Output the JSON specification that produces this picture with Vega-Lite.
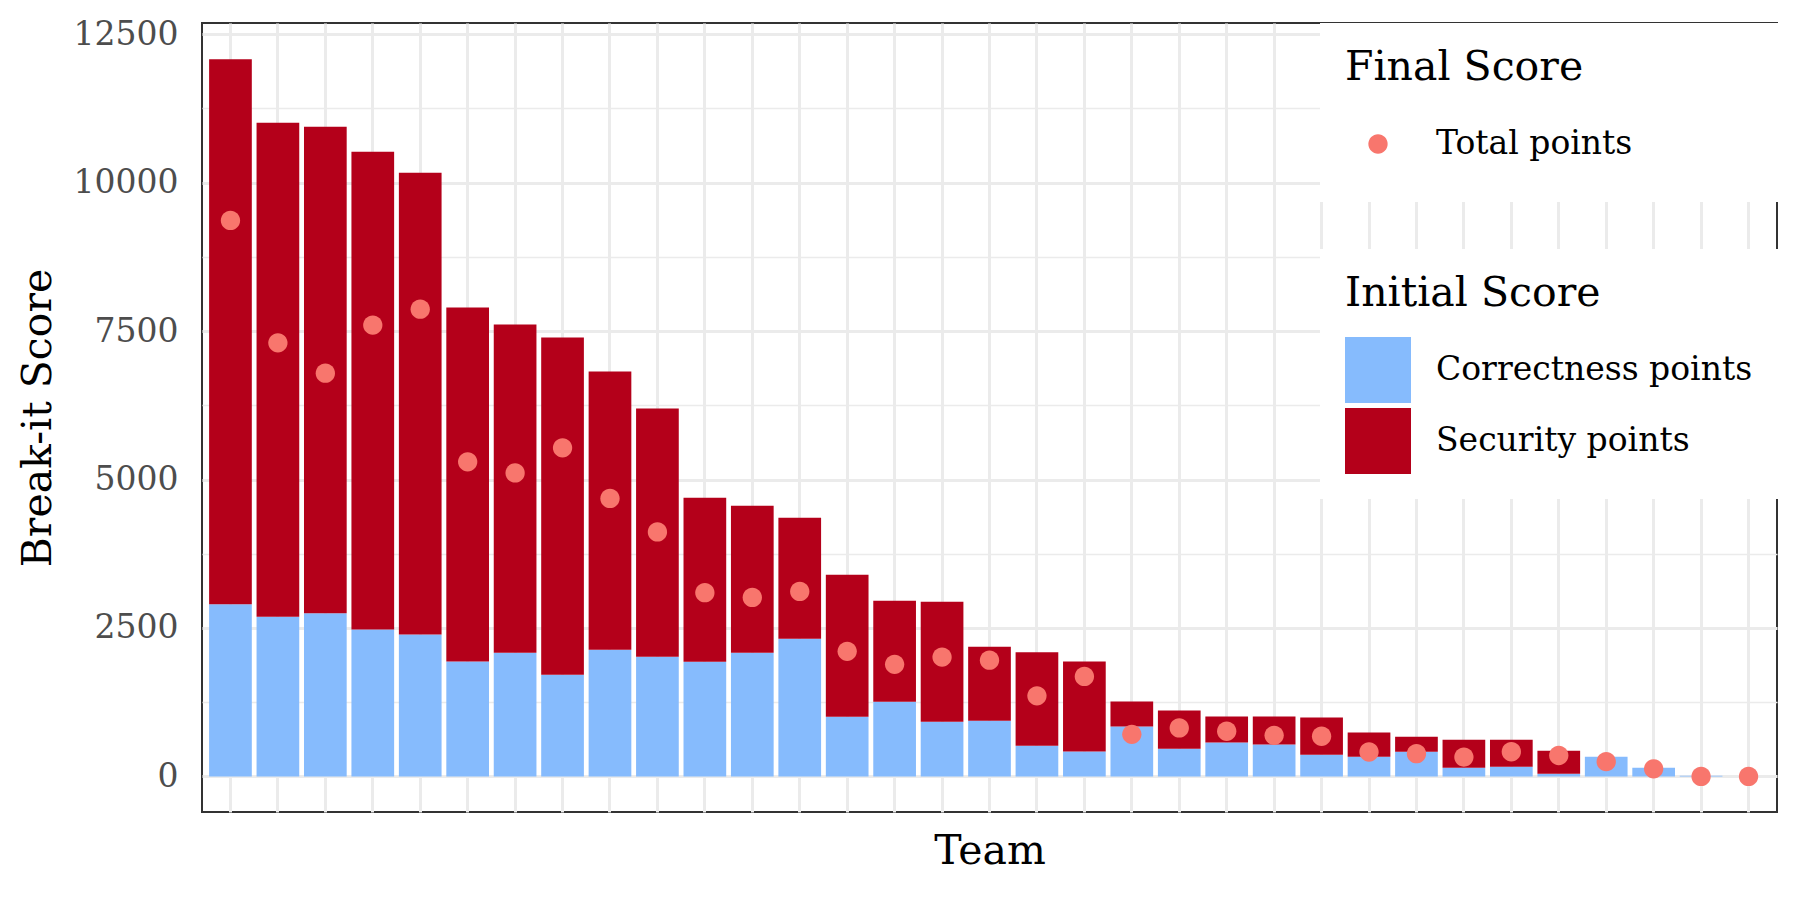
{
  "$schema": "https://vega.github.io/schema/vega-lite/v6.json",
  "width": 1575,
  "height": 789,
  "autosize": {"type": "none"},
  "padding": {"left": 202, "top": 23, "right": 23, "bottom": 88},
  "background": "white",
  "datasets": {
    "initial": [
      {"team": "T01", "component": "Correctness points", "points": 2900},
      {"team": "T01", "component": "Security points", "points": 9180},
      {"team": "T02", "component": "Correctness points", "points": 2690},
      {"team": "T02", "component": "Security points", "points": 8318},
      {"team": "T03", "component": "Correctness points", "points": 2747},
      {"team": "T03", "component": "Security points", "points": 8194},
      {"team": "T04", "component": "Correctness points", "points": 2472},
      {"team": "T04", "component": "Security points", "points": 8049},
      {"team": "T05", "component": "Correctness points", "points": 2388},
      {"team": "T05", "component": "Security points", "points": 7779},
      {"team": "T06", "component": "Correctness points", "points": 1933},
      {"team": "T06", "component": "Security points", "points": 5966},
      {"team": "T07", "component": "Correctness points", "points": 2084},
      {"team": "T07", "component": "Security points", "points": 5528},
      {"team": "T08", "component": "Correctness points", "points": 1713},
      {"team": "T08", "component": "Security points", "points": 5680},
      {"team": "T09", "component": "Correctness points", "points": 2135},
      {"team": "T09", "component": "Security points", "points": 4685},
      {"team": "T10", "component": "Correctness points", "points": 2017},
      {"team": "T10", "component": "Security points", "points": 4178},
      {"team": "T11", "component": "Correctness points", "points": 1932},
      {"team": "T11", "component": "Security points", "points": 2762},
      {"team": "T12", "component": "Correctness points", "points": 2083},
      {"team": "T12", "component": "Security points", "points": 2476},
      {"team": "T13", "component": "Correctness points", "points": 2319},
      {"team": "T13", "component": "Security points", "points": 2038},
      {"team": "T14", "component": "Correctness points", "points": 1005},
      {"team": "T14", "component": "Security points", "points": 2392},
      {"team": "T15", "component": "Correctness points", "points": 1258},
      {"team": "T15", "component": "Security points", "points": 1701},
      {"team": "T16", "component": "Correctness points", "points": 921},
      {"team": "T16", "component": "Security points", "points": 2021},
      {"team": "T17", "component": "Correctness points", "points": 938},
      {"team": "T17", "component": "Security points", "points": 1246},
      {"team": "T18", "component": "Correctness points", "points": 518},
      {"team": "T18", "component": "Security points", "points": 1571},
      {"team": "T19", "component": "Correctness points", "points": 417},
      {"team": "T19", "component": "Security points", "points": 1520},
      {"team": "T20", "component": "Correctness points", "points": 839},
      {"team": "T20", "component": "Security points", "points": 422},
      {"team": "T21", "component": "Correctness points", "points": 467},
      {"team": "T21", "component": "Security points", "points": 642},
      {"team": "T22", "component": "Correctness points", "points": 569},
      {"team": "T22", "component": "Security points", "points": 439},
      {"team": "T23", "component": "Correctness points", "points": 535},
      {"team": "T23", "component": "Security points", "points": 473},
      {"team": "T24", "component": "Correctness points", "points": 366},
      {"team": "T24", "component": "Security points", "points": 625},
      {"team": "T25", "component": "Correctness points", "points": 332},
      {"team": "T25", "component": "Security points", "points": 406},
      {"team": "T26", "component": "Correctness points", "points": 415},
      {"team": "T26", "component": "Security points", "points": 253},
      {"team": "T27", "component": "Correctness points", "points": 146},
      {"team": "T27", "component": "Security points", "points": 472},
      {"team": "T28", "component": "Correctness points", "points": 163},
      {"team": "T28", "component": "Security points", "points": 455},
      {"team": "T29", "component": "Correctness points", "points": 45},
      {"team": "T29", "component": "Security points", "points": 387},
      {"team": "T30", "component": "Correctness points", "points": 331},
      {"team": "T30", "component": "Security points", "points": 0},
      {"team": "T31", "component": "Correctness points", "points": 146},
      {"team": "T31", "component": "Security points", "points": 0},
      {"team": "T32", "component": "Correctness points", "points": 12},
      {"team": "T32", "component": "Security points", "points": 0},
      {"team": "T33", "component": "Correctness points", "points": 0},
      {"team": "T33", "component": "Security points", "points": 0}
    ],
    "final": [
      {"team": "T01", "series": "Total points", "points": 9365},
      {"team": "T02", "series": "Total points", "points": 7303},
      {"team": "T03", "series": "Total points", "points": 6792},
      {"team": "T04", "series": "Total points", "points": 7601},
      {"team": "T05", "series": "Total points", "points": 7870},
      {"team": "T06", "series": "Total points", "points": 5298},
      {"team": "T07", "series": "Total points", "points": 5112},
      {"team": "T08", "series": "Total points", "points": 5534},
      {"team": "T09", "series": "Total points", "points": 4682},
      {"team": "T10", "series": "Total points", "points": 4117},
      {"team": "T11", "series": "Total points", "points": 3094},
      {"team": "T12", "series": "Total points", "points": 3015},
      {"team": "T13", "series": "Total points", "points": 3116},
      {"team": "T14", "series": "Total points", "points": 2106},
      {"team": "T15", "series": "Total points", "points": 1887},
      {"team": "T16", "series": "Total points", "points": 2010},
      {"team": "T17", "series": "Total points", "points": 1957},
      {"team": "T18", "series": "Total points", "points": 1357},
      {"team": "T19", "series": "Total points", "points": 1683},
      {"team": "T20", "series": "Total points", "points": 709},
      {"team": "T21", "series": "Total points", "points": 816},
      {"team": "T22", "series": "Total points", "points": 760},
      {"team": "T23", "series": "Total points", "points": 692},
      {"team": "T24", "series": "Total points", "points": 676},
      {"team": "T25", "series": "Total points", "points": 411},
      {"team": "T26", "series": "Total points", "points": 382},
      {"team": "T27", "series": "Total points", "points": 326},
      {"team": "T28", "series": "Total points", "points": 415},
      {"team": "T29", "series": "Total points", "points": 352},
      {"team": "T30", "series": "Total points", "points": 248},
      {"team": "T31", "series": "Total points", "points": 127},
      {"team": "T32", "series": "Total points", "points": 0},
      {"team": "T33", "series": "Total points", "points": 0}
    ]
  },
  "encoding": {
    "x": {
      "field": "team",
      "type": "nominal",
      "scale": {"paddingInner": 0.1, "paddingOuter": 0.15},
      "axis": {
        "title": "Team",
        "labels": false,
        "ticks": false,
        "domain": false,
        "grid": true,
        "gridColor": "#EBEBEB",
        "gridWidth": 3,
        "bandPosition": 0.5,
        "titlePadding": 19
      }
    },
    "y": {
      "field": "points",
      "type": "quantitative",
      "scale": {"domain": [-600, 12690], "nice": false, "zero": false},
      "axis": {
        "title": "Break-it Score",
        "values": [0, 1250, 2500, 3750, 5000, 6250, 7500, 8750, 10000, 11250, 12500],
        "format": "d",
        "labelExpr": "datum.value % 2500 === 0 ? datum.label : ''",
        "ticks": false,
        "domain": false,
        "grid": true,
        "gridColor": "#EBEBEB",
        "gridWidth": {"condition": {"test": "datum.value % 2500 === 0", "value": 3}, "value": 1.6},
        "labelColor": "#4D4D4D",
        "labelFontSize": 33,
        "labelPadding": 24,
        "labelOverlap": false,
        "titlePadding": 14
      }
    }
  },
  "layer": [
    {
      "data": {"name": "initial"},
      "mark": {"type": "bar"},
      "encoding": {
        "color": {
          "field": "component",
          "type": "nominal",
          "scale": {
            "domain": ["Correctness points", "Security points"],
            "range": ["#86BBFD", "#B4001A"]
          },
          "legend": {
            "title": "Initial Score",
            "orient": "none",
            "legendX": 1118,
            "legendY": 226,
            "symbolType": "square",
            "symbolSize": 4356,
            "symbolStrokeWidth": 0,
            "labelOffset": 25,
            "rowPadding": 5,
            "titlePadding": 22,
            "padding": 25,
            "fillColor": "white"
          }
        },
        "order": {"field": "component", "sort": "ascending"}
      }
    },
    {
      "data": {"name": "final"},
      "mark": {"type": "point", "filled": true, "size": 4356, "color": "#F8766D", "opacity": 1, "strokeWidth": 0},
      "encoding": {
        "shape": {
          "field": "series",
          "type": "nominal",
          "scale": {"range": ["M-1,-1M1,1M0.2924,0A0.2924,0.2924,0,1,1,-0.2924,0A0.2924,0.2924,0,1,1,0.2924,0Z"]},
          "legend": {
            "title": "Final Score",
            "orient": "none",
            "legendX": 1118,
            "legendY": 0,
            "symbolSize": 4356,
            "symbolFillColor": "#F8766D",
            "symbolStrokeWidth": 0,
            "labelOffset": 25,
            "titlePadding": 22,
            "padding": 25,
            "fillColor": "white",
            "labelExpr": "datum.label + '\u00a0\u00a0\u00a0\u00a0\u00a0\u00a0\u00a0\u00a0\u00a0\u00a0\u00a0\u00a0\u200b'"
          }
        }
      }
    }
  ],
  "config": {
    "font": "DejaVu Serif",
    "view": {"stroke": "#333333", "strokeWidth": 2},
    "axis": {
      "labelFont": "DejaVu Serif",
      "titleFont": "DejaVu Serif",
      "titleFontSize": 41,
      "titleFontWeight": "normal",
      "titleColor": "#000000"
    },
    "legend": {
      "labelFont": "DejaVu Serif",
      "labelFontSize": 33,
      "labelColor": "#000000",
      "labelLimit": 1000,
      "titleFont": "DejaVu Serif",
      "titleFontSize": 41,
      "titleFontWeight": "normal",
      "titleColor": "#000000",
      "titleLimit": 1000
    }
  }
}
